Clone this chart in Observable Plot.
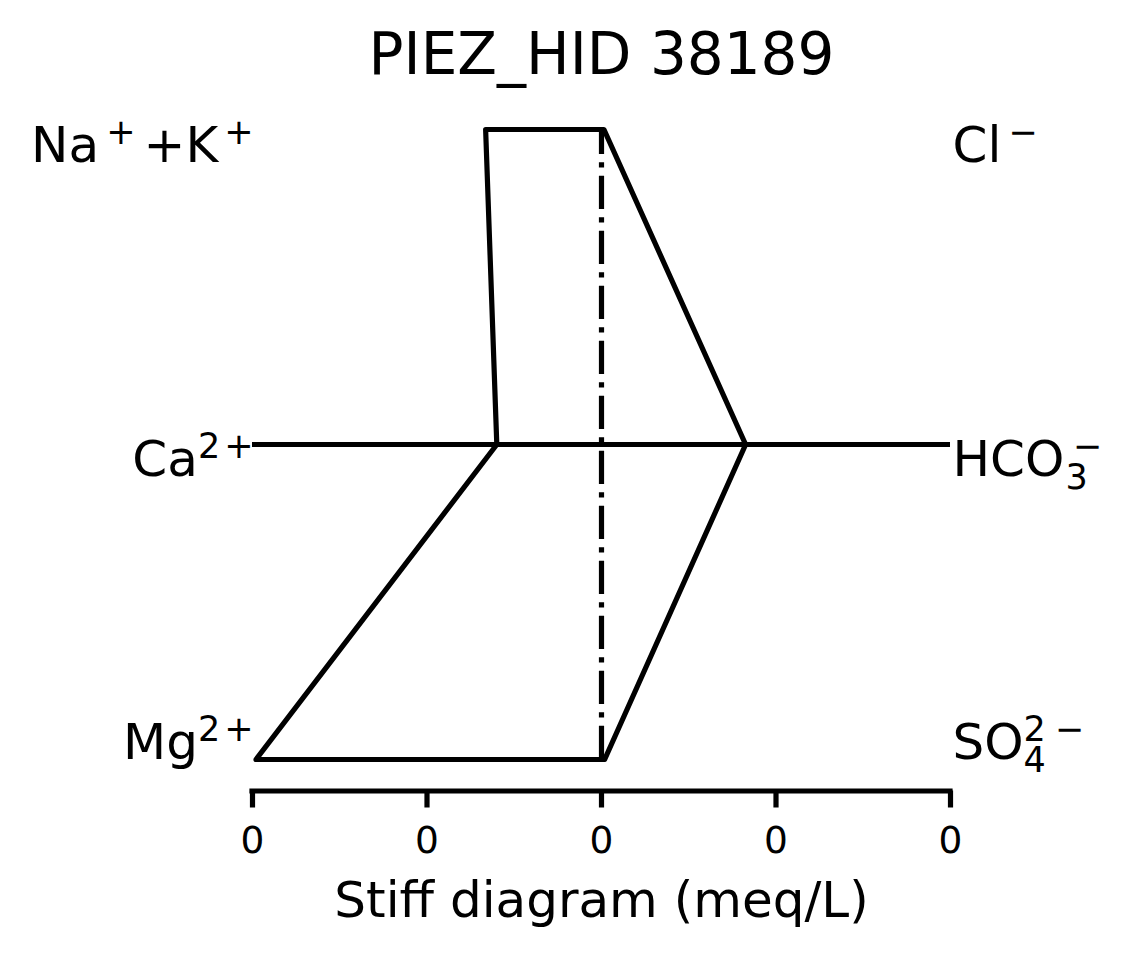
<!DOCTYPE html>
<html>
<head>
<meta charset="utf-8">
<script src="https://cdn.jsdelivr.net/npm/d3@7"></script>
<script src="https://cdn.jsdelivr.net/npm/@observablehq/plot@0.6"></script>
<style>
  html, body { margin: 0; padding: 0; background: #ffffff; }
  #chart { width: 1126px; height: 957px; }
</style>
</head>
<body>
<div id="chart"></div>
<script>
// ---- data ----
const title = "PIEZ_HID 38189";
const xLabel = "Stiff diagram (meq/L)";
const cations = ["Na+K", "Ca", "Mg"];
const anions = ["Cl", "HCO3", "SO4"];
const levels = [3, 2, 1];
const cationValues = [0.332, 0.300, 0.990];
const anionValues = [0.007, 0.413, 0.009];
const xTicks = [-1, -0.5, 0, 0.5, 1];
const xTickLabels = ["0", "0", "0", "0", "0"];

// ---- derived tables ----
const anionPts = anions.map((k, i) => ({ion: k, x: anionValues[i], y: levels[i]}));
const cationPts = cations.map((k, i) => ({ion: k, x: -cationValues[i], y: levels[i]}));
const polygon = [cationPts[0], ...anionPts, ...cationPts.slice().reverse()];
const leftLabels = cations.map((k, i) => ({label: k, y: levels[i]}));
const rightLabels = anions.map((k, i) => ({label: k, y: levels[i]}));

// rich text (super/subscripts) for ion labels
const rich = {
  "Na+K": [{t: "Na"}, {t: "+", s: "sup", dx: 7}, {t: "+K", dx: 8}, {t: "+", s: "sup", dx: 6}],
  "Ca": [{t: "Ca"}, {t: "2", s: "sup"}, {t: "+", s: "sup", dx: 4}],
  "Mg": [{t: "Mg"}, {t: "2", s: "sup"}, {t: "+", s: "sup", dx: 4}],
  "Cl": [{t: "Cl"}, {t: "\u2212", s: "sup", dx: 7}],
  "HCO3": [{t: "HCO"}, {t: "3", s: "sub", dx: 1}, {t: "\u2212", s: "sup", dx: -15}],
  "SO4": [{t: "SO"}, {t: "4", s: "sub"}, {t: "2", s: "sup", dx: -22.3}, {t: "\u2212", s: "sup", dx: 9}]
};
const rowDy = {3: 32, 2: 31, 1: -1};
const LW = 5.2;

const plot = Plot.plot({
  width: 1126,
  height: 957,
  marginLeft: 252,
  marginRight: 176,
  marginTop: 97.5,
  marginBottom: 166.5,
  style: {fontFamily: "'DejaVu Sans', sans-serif", color: "black", background: "white", overflow: "visible"},
  x: {domain: [-1, 1], axis: null},
  y: {domain: [0.9, 3.1], axis: null},
  marks: [
    Plot.ruleY([2], {x1: -1, x2: 1, stroke: "black", strokeWidth: LW, strokeLinecap: "butt"}),
    Plot.ruleX([0], {y1: 1, y2: 3, stroke: "black", strokeWidth: LW, strokeDasharray: "33.2,8.3,5.2,8.3"}),
    Plot.line(polygon, {x: "x", y: "y", stroke: "black", strokeWidth: LW, strokeLinejoin: "round", curve: "linear"}),
    Plot.ruleY([0.9], {x1: -1, x2: 1, stroke: "black", strokeWidth: LW, strokeLinecap: "square"}),
    Plot.axisX(xTicks, {
      label: null,
      tickFormat: d => xTickLabels[xTicks.indexOf(d)],
      tickSize: 17, tickPadding: 18, fontSize: 37.5, strokeWidth: LW, fill: "black", stroke: "black"
    }),
    Plot.text(leftLabels, {
      x: () => -1, y: "y", text: "label", textAnchor: "end", lineAnchor: "bottom",
      dx: 1, fontSize: 50, fill: "black"
    }),
    Plot.text(rightLabels, {
      x: () => 1, y: "y", text: "label", textAnchor: "start", lineAnchor: "bottom",
      dx: 2, fontSize: 50, fill: "black"
    }),
    Plot.text([title], {text: d => d, frameAnchor: "top", lineAnchor: "bottom", dy: -24.5, fontSize: 58, fill: "black"}),
    Plot.text([xLabel], {text: d => d, frameAnchor: "bottom", lineAnchor: "bottom", dy: 126, fontSize: 50, fill: "black"})
  ]
});

document.getElementById("chart").appendChild(plot);

// post-process ion labels: vertical offsets per row and rich super/subscripts
const svgNS = "http://www.w3.org/2000/svg";
const offs = {base: 0, sup: -18, sub: 13};
const allLabels = leftLabels.concat(rightLabels);
plot.querySelectorAll("text").forEach(el => {
  const key = el.textContent;
  if (!(key in rich)) return;
  const rec = allLabels.find(d => d.label === key);
  const tr = el.getAttribute("transform") || "";
  const m = tr.match(/translate\(([-\d.e]+),\s*([-\d.e]+)\)/);
  if (m) el.setAttribute("transform", `translate(${m[1]},${+m[2] + rowDy[rec.y]})`);
  el.textContent = "";
  let cur = 0;
  rich[key].forEach(seg => {
    const ts = document.createElementNS(svgNS, "tspan");
    const target = offs[seg.s || "base"];
    const dy = target - cur;
    cur = target;
    if (dy) ts.setAttribute("dy", dy);
    if (seg.dx) ts.setAttribute("dx", seg.dx);
    if (seg.s) ts.setAttribute("font-size", 35);
    ts.textContent = seg.t;
    el.appendChild(ts);
  });
});
</script>
</body>
</html>
